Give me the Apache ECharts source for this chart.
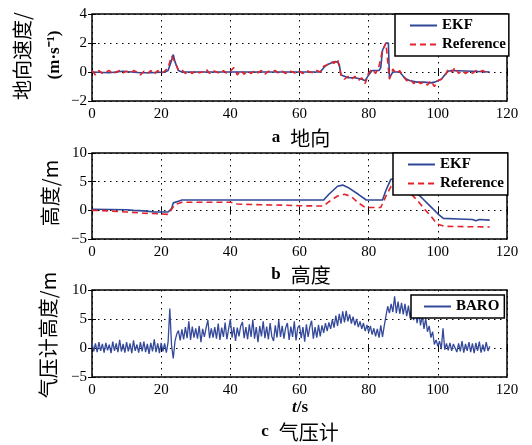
<!DOCTYPE html>
<html><head><meta charset="utf-8">
<script src="https://cdn.jsdelivr.net/npm/echarts@6/dist/echarts.min.js"></script>
<style>html,body{margin:0;padding:0;background:#fff}#c{width:532px;height:445px}</style>
</head><body><div id="c"></div>
<script>
// ---------- DATA ----------
const X_TICKS = [0, 20, 40, 60, 80, 100, 120];
// panel a: east velocity (m/s)
const EKF_A = [[0,0],[5,-0.05],[9,0.05],[14,-0.05],[17,-0.05],[21,0],[22,0.1],[23,0.8],[23.5,1.2],[24,0.7],[25,0.1],[26,0],[40,0],[55,0],[66,0],[67,0.3],[68,0.5],[69,0.6],[70,0.7],[71,0.7],[71.5,0.5],[72,-0.2],[73,-0.3],[74,-0.4],[76,-0.4],[78,-0.5],[79,-0.6],[80,-0.2],[81,0.1],[83,0.1],[83.5,0.3],[84,1.5],[85,2.0],[85.7,2.0],[86,-0.4],[86.5,-0.2],[87,0],[89,0],[90,-0.3],[91,-0.5],[92,-0.6],[94,-0.7],[96,-0.7],[98,-0.75],[99,-0.7],[100,-0.6],[101,-0.5],[102,-0.2],[103,0.05],[104,0.1],[110,0.05],[115,0]];
const REF_A = [0.1,-0.2,0.1,-0.1,0,0.1,-0.15,0,0.1,-0.05,
  0.05,-0.1,0.1,0,-0.2,0.05,-0.1,0.1,-0.15,0.1,
  -0.1,0.05,0.3,1.1,0.7,0.1,0.15,-0.1,0.05,-0.1,
  0.1,-0.05,0,0.2,-0.1,0.1,0,-0.1,0.1,-0.1,
  0.05,0.3,-0.2,0.1,-0.15,0.05,-0.1,0.1,-0.05,0.1,
  -0.15,0.05,0,0.1,-0.1,0.05,-0.1,0.1,0,-0.1,
  0.05,-0.1,0.1,0,-0.05,0.1,0,0.4,0.5,0.7,
  0.6,0.9,-0.2,-0.5,-0.3,-0.5,-0.3,-0.6,-0.4,-0.8,
  -0.05,0.2,-0.1,0.4,1.5,2.0,-0.5,0.2,-0.1,0.1,
  -0.3,-0.6,-0.5,-0.8,-0.6,-0.8,-0.7,-0.9,-0.6,-1.0,
  -0.6,-0.5,-0.3,0.2,0,0.3,-0.1,0.1,-0.1,0.05,
  -0.1,0.1,0,0.1,-0.05,-0.05];
const REF_A_STEP = 1; // seconds between samples
// panel b: height (m)
const EKF_B = [[0,0.2],[10,0.1],[12,0],[15,-0.1],[18,-0.3],[22,-0.3],[23,0.3],[23.5,1.3],[25,1.6],[26,1.8],[46.5,1.8],[47,1.5],[47.5,1.8],[67,1.8],[68.5,2.8],[71,4.2],[72.5,4.4],[74,4.0],[77,2.8],[79.3,1.8],[84,1.8],[85,3.5],[86.4,5.4],[88,5.5],[90,5.0],[92,4.2],[94,3.0],[96,1.8],[98,0.6],[100,-0.6],[101.6,-1.4],[106,-1.5],[110,-1.6],[111,-1.8],[112,-1.6],[115,-1.7]];
const REF_B = [[0,0],[5,-0.1],[10,-0.3],[15,-0.5],[19,-0.6],[22,-0.7],[23,0.2],[24,1.0],[26,1.4],[40,1.4],[42,1.1],[47,1.0],[55,0.9],[60,0.8],[67,0.75],[68.5,1.5],[71,2.5],[73,2.8],[75,2.4],[77,1.3],[79,0.5],[83.5,0.5],[85,2.5],[86.5,4.2],[88,4.6],[90,4.0],[92,3.0],[94,1.8],[96,0.3],[98,-1.0],[99.8,-2.4],[102,-2.8],[115,-2.9]];
// panel c: barometer height (m), sampled every 0.5 s
const BARO = [0.9,-0.6,0.8,-0.7,1.0,-0.5,0.7,-0.8,0.9,-0.4,
  0.6,-0.9,1.1,-0.5,0.8,-0.7,1.4,-0.6,0.7,-0.8,
  1.0,-0.6,0.8,-0.9,1.3,-0.5,0.6,-0.8,1.0,-0.6,
  1.1,-0.7,0.7,-1.0,0.9,-0.6,1.5,-0.7,0.8,-0.9,
  0.9,-0.6,0.8,-0.8,1.0,6.8,0.5,-1.8,1.2,2.4,
  3.0,1.3,3.2,1.5,3.6,1.7,4.6,1.4,3.7,1.8,
  3.4,1.6,3.8,1.0,3.3,1.9,3.5,4.8,1.7,3.4,
  1.8,3.6,1.6,4.2,1.4,3.5,1.9,4.4,1.5,3.3,
  5.0,1.8,3.6,1.2,3.5,2.0,3.8,4.5,1.7,3.6,
  1.5,4.1,1.9,4.9,1.6,3.6,1.0,3.8,2.0,4.6,
  1.7,3.7,1.5,4.3,2.0,1.2,3.9,1.8,4.8,1.9,
  3.8,1.6,3.5,4.3,1.4,3.7,1.9,4.6,1.3,3.5,
  3.9,1.7,3.6,1.1,4.1,1.9,3.7,4.7,1.6,3.6,
  1.8,4.0,2.0,3.9,2.6,4.3,2.9,4.4,3.3,4.9,
  3.5,5.6,3.8,5.9,4.2,6.3,4.4,6.4,4.6,5.8,
  4.2,5.4,3.9,5.0,3.6,4.6,3.3,4.3,2.9,4.0,
  2.7,3.8,2.3,3.4,2.0,3.3,1.8,3.9,1.9,3.8,
  4.0,7.2,6.0,7.6,6.2,8.9,6.0,8.0,5.9,7.8,
  5.8,7.6,5.5,7.3,5.1,7.0,4.8,6.6,4.3,6.2,
  3.9,5.6,3.3,5.1,2.8,3.8,1.8,2.8,0.6,1.4,
  0.3,1.2,-0.2,3.4,-0.3,0.8,-0.4,0.9,-0.5,0.7,
  1.0,-0.7,0.8,-0.6,1.2,-0.8,0.7,-0.5,1.0,-0.7,
  0.8,-0.9,0.9,-0.5,1.1,-0.8,0.6,-0.6,1.0,-0.5,
  0.3];
const BARO_STEP = 0.5;
const Y_A = {min: -2, max: 4, interval: 2};
const Y_B = {min: -5, max: 10, interval: 5};
const Y_C = {min: -5, max: 10, interval: 5};
const NAMES = {ekf: 'EKF', ref: 'Reference', baro: 'BARO'};

// ---------- CHART ----------
const SERIF = 'Liberation Serif';
const CJK = 'Noto Sans CJK SC';
const BLUE = '#2f4796', RED = '#e3222b';
const grids = [
  {left: 92, top: 14, width: 415, height: 87},
  {left: 92, top: 153, width: 415, height: 86},
  {left: 92, top: 290, width: 415, height: 87}
].map(g => Object.assign(g, {show: true, borderColor: '#000', borderWidth: 1.5, backgroundColor: 'transparent', containLabel: false}));
const fmt = v => (v < 0 ? '\u2212' + Math.abs(v) : String(v));
const split = {show: true, lineStyle: {color: '#000', type: [1.5, 4.5], width: 1}};
const lbl = {color: '#000', fontFamily: SERIF, fontSize: 15, formatter: fmt};
const xAxes = [], yAxes = [];
[Y_A, Y_B, Y_C].forEach((ya, i) => {
  xAxes.push({type: 'value', gridIndex: i, min: 0, max: 120, interval: 20, position: 'bottom',
    axisLine: {show: false}, axisTick: {show: true, inside: true, length: 4, lineStyle: {color: '#000'}},
    axisLabel: Object.assign({margin: 6}, lbl), splitLine: split});
  xAxes.push({type: 'value', gridIndex: i, min: 0, max: 120, interval: 20, position: 'top',
    axisLine: {show: false}, axisTick: {show: true, inside: true, length: 4, lineStyle: {color: '#000'}},
    axisLabel: {show: false}, splitLine: {show: false}});
  yAxes.push({type: 'value', gridIndex: i, min: ya.min, max: ya.max, interval: ya.interval, position: 'left',
    axisLine: {show: false}, axisTick: {show: true, inside: true, length: 4, lineStyle: {color: '#000'}},
    axisLabel: Object.assign({margin: 5}, lbl), splitLine: split});
  yAxes.push({type: 'value', gridIndex: i, min: ya.min, max: ya.max, interval: ya.interval, position: 'right',
    axisLine: {show: false}, axisTick: {show: true, inside: true, length: 4, lineStyle: {color: '#000'}},
    axisLabel: {show: false}, splitLine: {show: false}});
});
const ln = (name, data, gi, color, dashed, w) => ({
  type: 'line', name, data, xAxisIndex: gi * 2, yAxisIndex: gi * 2, symbol: 'none', animation: false,
  lineStyle: {color, width: w, type: dashed ? [6, 4] : 'solid'}, itemStyle: {color}
});
const series = [
  ln(NAMES.ekf, EKF_A, 0, BLUE, false, 1.6),
  ln(NAMES.ref, REF_A.map((v, i) => [i * REF_A_STEP, v]), 0, RED, true, 1.6),
  ln(NAMES.ekf, EKF_B, 1, BLUE, false, 1.6),
  ln(NAMES.ref, REF_B, 1, RED, true, 1.6),
  ln(NAMES.baro, BARO.map((v, i) => [i * BARO_STEP, v]), 2, '#34499a', false, 1.3)
];
const legendBase = {orient: 'vertical', itemWidth: 27, itemHeight: 14, itemGap: 4,
  borderColor: '#000', borderWidth: 1.5, backgroundColor: '#fff', borderRadius: 0,
  itemStyle: {opacity: 0},
  textStyle: {fontFamily: SERIF, fontWeight: 'bold', fontSize: 15, color: '#000'},
  selectedMode: false};
const legends = [
  Object.assign({}, legendBase, {left: 395, top: 14, padding: [4, 3, 4, 14], data: [NAMES.ekf, NAMES.ref]}),
  Object.assign({}, legendBase, {left: 393, top: 153, padding: [4, 4, 4, 14], data: [NAMES.ekf, NAMES.ref]}),
  Object.assign({}, legendBase, {left: 411, top: 295, padding: [4, 5, 4, 12], data: [NAMES.baro]})
];
const vtext = (x, y, text, font, size, weight) => ({
  type: 'text', x, y, rotation: Math.PI / 2, z: 100,
  style: {text, fontFamily: font, fontSize: size, fontWeight: weight || 'normal', fill: '#000', align: 'center', verticalAlign: 'middle'}
});
const rtext = (x, y, text, rich) => ({
  type: 'text', x, y, z: 100,
  style: {text, rich, fill: '#000', align: 'center', verticalAlign: 'middle'}
});
const richT = {l: {fontFamily: SERIF, fontWeight: 'bold', fontSize: 17}, c: {fontFamily: CJK, fontSize: 20}};
const graphic = [
  vtext(22, 56, '地向速度/', CJK, 20),
  vtext(55, 55, '(m·s\u207B\u00B9)', SERIF, 17, 'bold'),
  vtext(50, 193, '高度/m', CJK, 20),
  vtext(48, 335, '气压计高度/m', CJK, 20),
  rtext(301, 138, '{l|a}   {c|地向}', richT),
  rtext(301, 275, '{l|b}   {c|高度}', richT),
  rtext(300, 408, '{i|t}{l|/s}', {i: {fontFamily: SERIF, fontStyle: 'italic', fontWeight: 'bold', fontSize: 17}, l: {fontFamily: SERIF, fontWeight: 'bold', fontSize: 17}}),
  rtext(300, 432, '{l|c}   {c|气压计}', richT)
];
const chart = echarts.init(document.getElementById('c'), null, {renderer: 'canvas'});
chart.setOption({animation: false, grid: grids, xAxis: xAxes, yAxis: yAxes, series, legend: legends, graphic});
</script></body></html>
